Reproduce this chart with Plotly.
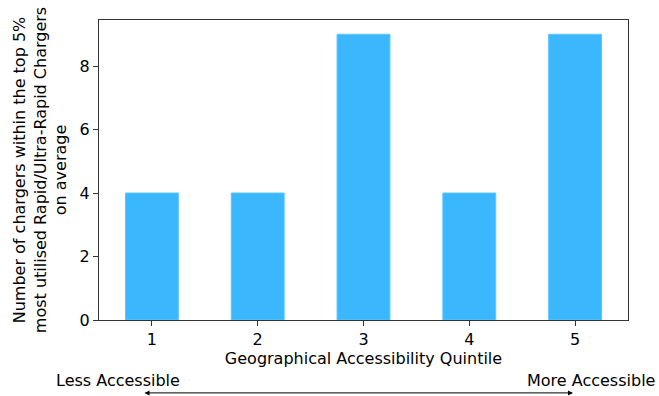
import plotly.graph_objects as go

quintiles = [1, 2, 3, 4, 5]
charger_counts = [4, 4, 9, 4, 9]

FONT = "DejaVu Sans"
BAR_COLOR = "#3ab7fd"
FS = 16

fig = go.Figure()
fig.add_trace(go.Bar(
    x=quintiles,
    y=charger_counts,
    width=0.5,
    marker=dict(color=BAR_COLOR, line=dict(color="#5cc6ff", width=1)),
))

axis_common = dict(
    showline=True, linecolor="#333333", linewidth=1.3, mirror=True,
    ticks="outside", ticklen=5, tickcolor="#333333",
    showgrid=False, zeroline=False,
    tickfont=dict(family=FONT, size=FS, color="black"),
)

fig.update_xaxes(
    range=[0.5, 5.5], tickmode="array", tickvals=quintiles,
    ticktext=[str(q) for q in quintiles],
    title=dict(text="Geographical Accessibility Quintile",
               font=dict(family=FONT, size=FS, color="black"), standoff=2),
    **axis_common,
)
fig.update_yaxes(
    range=[0, 9.45], tickmode="array", tickvals=[0, 2, 4, 6, 8],
    title=dict(text="Number of chargers within the top 5%<br>"
                    "most utilised Rapid/Ultra-Rapid Chargers<br>on average",
               font=dict(family=FONT, size=FS, color="black"), standoff=8),
    **axis_common,
)

# Direction labels and double-headed arrow beneath the x axis
fig.add_annotation(x=-0.085, y=-0.2, xref="paper", yref="paper",
                   text="Less Accessible", showarrow=False,
                   xanchor="left", yanchor="middle",
                   font=dict(family=FONT, size=FS, color="black"))
fig.add_annotation(x=1.055, y=-0.2, xref="paper", yref="paper",
                   text="More Accessible", showarrow=False,
                   xanchor="right", yanchor="middle",
                   font=dict(family=FONT, size=FS, color="black"))
fig.add_annotation(x=0.896, y=-0.243, xref="paper", yref="paper",
                   ax=-430, ay=0, text="", showarrow=True,
                   arrowside="end+start", arrowhead=2, arrowsize=1,
                   arrowwidth=1, arrowcolor="black")

fig.update_layout(
    width=659, height=396,
    margin=dict(l=99, r=31, t=20, b=76),
    plot_bgcolor="white", paper_bgcolor="white",
    showlegend=False,
    font=dict(family=FONT, color="black"),
)

fig.write_html("out.html")
